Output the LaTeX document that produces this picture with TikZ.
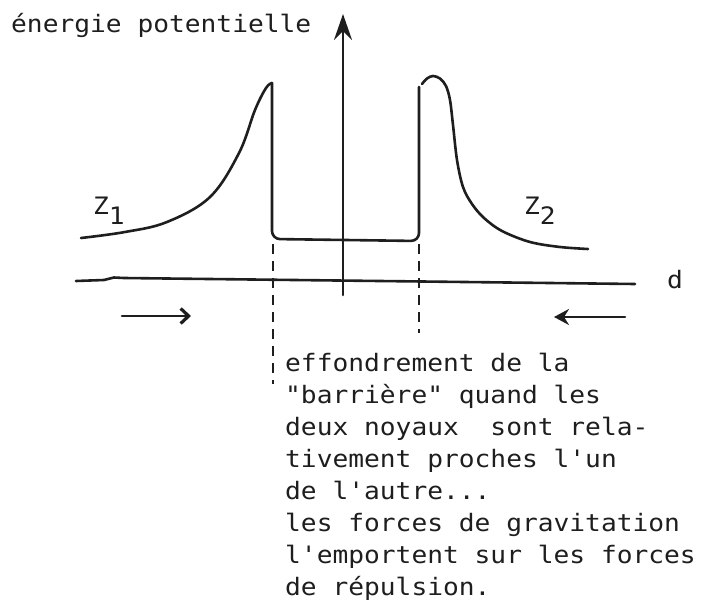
\documentclass[tikz,border=0pt]{standalone}
\usepackage{fontspec}
\newfontfamily\tw{DejaVu Sans Mono}[Ligatures=TeXOff,FakeStretch=1.093]
\usetikzlibrary{arrows.meta}
\definecolor{ink}{RGB}{30,30,30}
\begin{document}
\begin{tikzpicture}[x=1pt,y=-1pt,
  ink line/.style={draw=ink,line width=2.6pt,line cap=round,line join=round},
  dash line/.style={draw=ink,line width=2.4pt,dash pattern=on 10pt off 7pt},
  lbl/.style={inner sep=0pt,anchor=base west,text=ink,font=\tw\fontsize{24}{32}\selectfont}]
\useasboundingbox (0,0) rectangle (704,602);
% axes
\coordinate (vb) at (343,295);
\coordinate (vt) at (343,14);
\draw[ink line,-{Stealth[length=26pt,width=18pt,inset=9pt]}] (vb) -- (vt);
\coordinate (ha) at (76,281);
\coordinate (hb) at (635,284);
\draw[ink line] (ha) -- (104,280) -- (114,277.5) -- (124,278) -- (hb);
% potential curve left
\draw[ink line] plot[smooth,tension=0.6] coordinates {(81,238) (125,232) (167,222) (210,197) (239,153) (255,110) (266,88) (272,83)};
% barrier walls and floor
\coordinate (lw) at (272,83);
\coordinate (rw) at (419,87);
\draw[ink line,rounded corners=8pt] (lw) -- (272,239) -- (419,241) -- (rw);
% right peak
\draw[ink line] plot[smooth,tension=0.55] coordinates {(422,84) (427,78.5) (433,76) (440,78.5) (446,86) (450,100) (453,125) (457,160) (463,187) (472,204) (484,218) (502,231) (530,242) (560,247) (588,249)};
% dashed verticals
\coordinate (d1a) at (273,244);
\coordinate (d1b) at (273,384);
\coordinate (d2a) at (419,244);
\coordinate (d2b) at (419,333);
\draw[dash line] (d1a) -- (d1b);
\draw[dash line] (d2a) -- (d2b);
% direction arrows
\coordinate (a1s) at (122,316);
\coordinate (a1e) at (191,316);
\draw[ink line,-{Straight Barb[length=8pt,width=15pt,line width=3.2pt]}] (a1s) -- (a1e);
\coordinate (a2s) at (625,317);
\coordinate (a2e) at (554,317);
\draw[ink line,-{Stealth[length=15pt,width=16pt,inset=5pt]}] (a2s) -- (a2e);
% labels
\node[lbl] (title) at (11,33) {énergie potentielle};
\node[lbl] (dlab) at (667,288) {d};
\node[lbl] (z1) at (93,214) {Z\raisebox{-10pt}{1}};
\node[lbl] (z2) at (524,214) {Z\raisebox{-10pt}{2}};
\node[lbl] (t1) at (285,371) {effondrement de la};
\node[lbl] (t2) at (285,403) {"barrière" quand les};
\node[lbl] (t3) at (285,435) {deux noyaux~ sont rela-};
\node[lbl] (t4) at (285,467) {tivement proches l'un};
\node[lbl] (t5) at (285,499) {de l'autre...};
\node[lbl] (t6) at (285,531) {les forces de gravitation};
\node[lbl] (t7) at (285,563) {l'emportent sur les forces};
\node[lbl] (t8) at (285,595) {de répulsion.};
\end{tikzpicture}
\end{document}
